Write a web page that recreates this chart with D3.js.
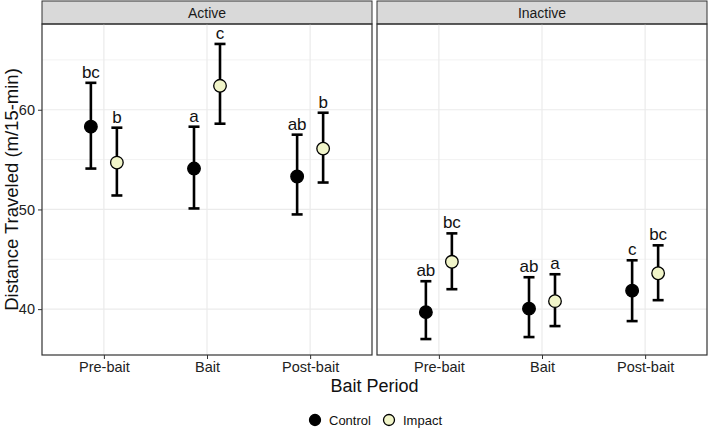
<!DOCTYPE html>
<html>
<head>
<meta charset="utf-8">
<script src="https://cdn.jsdelivr.net/npm/d3@7"></script>
<style>
  body { margin: 0; background: #fff; }
  text { font-family: "Liberation Sans", Arial, sans-serif; }
</style>
</head>
<body>
<div id="chart"></div>
<script>
// data
const periods = ["Pre-bait", "Bait", "Post-bait"];
const panels = ["Active", "Inactive"];
const groups = ["Control", "Impact"];

// means, lower and upper error limits, letters
const activeControl = [58.3, 54.1, 53.3];
const activeControlLo = [54.1, 50.1, 49.5];
const activeControlHi = [62.7, 58.3, 57.5];
const activeControlLab = ["bc", "a", "ab"];

const activeImpact = [54.7, 62.4, 56.1];
const activeImpactLo = [51.4, 58.6, 52.7];
const activeImpactHi = [58.2, 66.6, 59.7];
const activeImpactLab = ["b", "c", "b"];

const inactiveControl = [39.7, 40.05, 41.85];
const inactiveControlLo = [37.0, 37.2, 38.8];
const inactiveControlHi = [42.8, 43.2, 44.9];
const inactiveControlLab = ["ab", "ab", "c"];

const inactiveImpact = [44.75, 40.8, 43.6];
const inactiveImpactLo = [42.0, 38.3, 40.9];
const inactiveImpactHi = [47.6, 43.5, 46.4];
const inactiveImpactLab = ["bc", "a", "bc"];

const yTicks = [40, 50, 60];
const yMinor = [45, 55, 65];

function rows(panel, group, mean, lo, hi, lab) {
    return periods.map((p, i) => ({panel, group, period: p, mean: mean[i], lo: lo[i], hi: hi[i], lab: lab[i]}));
}
const datos = [].concat(
    rows("Active", "Control", activeControl, activeControlLo, activeControlHi, activeControlLab),
    rows("Active", "Impact", activeImpact, activeImpactLo, activeImpactHi, activeImpactLab),
    rows("Inactive", "Control", inactiveControl, inactiveControlLo, inactiveControlHi, inactiveControlLab),
    rows("Inactive", "Impact", inactiveImpact, inactiveImpactLo, inactiveImpactHi, inactiveImpactLab)
);

const W = 709, H = 430;
const topY = 24, bottomY = 355;
const panelX = {Active: [42, 372], Inactive: [377, 707]};
const fillColor = {Control: "#000000", Impact: "#f1f5c9"};

const svg = d3.select("#chart").append("svg")
    .attr("width", W).attr("height", H);

const y = d3.scaleLinear().domain([35.4, 68.6]).range([bottomY, topY]);

panels.forEach(panel => {
    const [x0, x1] = panelX[panel];
    // discrete scale with 0.6 expansion each side
    const xc = d3.scalePoint().domain(periods).range([x0, x1]).padding(0.6);
    const g = svg.append("g");

    // strip
    g.append("rect")
        .attr("x", x0).attr("y", 1).attr("width", x1 - x0).attr("height", topY - 1)
        .attr("fill", "#d9d9d9").attr("stroke", "#333").attr("stroke-width", 1);
    g.append("text")
        .attr("x", (x0 + x1) / 2).attr("y", 18)
        .attr("text-anchor", "middle").attr("font-size", 14).attr("fill", "#1a1a1a")
        .text(panel);

    // grid
    g.selectAll(".minor").data(yMinor).join("line")
        .attr("x1", x0).attr("x2", x1)
        .attr("y1", d => y(d)).attr("y2", d => y(d))
        .attr("stroke", "#f2f2f2").attr("stroke-width", 1);
    g.selectAll(".major").data(yTicks).join("line")
        .attr("x1", x0).attr("x2", x1)
        .attr("y1", d => y(d)).attr("y2", d => y(d))
        .attr("stroke", "#ebebeb").attr("stroke-width", 1.2);
    g.selectAll(".vgrid").data(periods).join("line")
        .attr("x1", d => xc(d)).attr("x2", d => xc(d))
        .attr("y1", topY).attr("y2", bottomY)
        .attr("stroke", "#ebebeb").attr("stroke-width", 1.2);

    // x axis
    const xAxis = g.append("g")
        .attr("transform", `translate(0,${bottomY})`)
        .call(d3.axisBottom(xc).tickSize(4).tickPadding(3));
    xAxis.select(".domain").remove();
    xAxis.selectAll("line").attr("stroke", "#333");
    xAxis.selectAll("text").attr("font-size", 14.5).attr("fill", "#222")
        .attr("font-family", "Liberation Sans, Arial, sans-serif");

    // points
    const dd = datos.filter(d => d.panel === panel);
    const dodge = 13;
    const px = d => xc(d.period) + (d.group === "Control" ? -dodge : dodge);

    g.selectAll(".bar").data(dd).join("line")
        .attr("x1", px).attr("x2", px)
        .attr("y1", d => y(d.lo)).attr("y2", d => y(d.hi))
        .attr("stroke", "#000").attr("stroke-width", 2.6);
    ["lo", "hi"].forEach(k => {
        g.selectAll(".cap" + k).data(dd).join("line")
            .attr("x1", d => px(d) - 5.5).attr("x2", d => px(d) + 5.5)
            .attr("y1", d => y(d[k])).attr("y2", d => y(d[k]))
            .attr("stroke", "#000").attr("stroke-width", 2.6);
    });
    g.selectAll(".pt").data(dd).join("circle")
        .attr("cx", px).attr("cy", d => y(d.mean)).attr("r", 6.3)
        .attr("fill", d => fillColor[d.group])
        .attr("stroke", "#000").attr("stroke-width", 1.3);
    g.selectAll(".lab").data(dd).join("text")
        .attr("x", px).attr("y", d => y(d.hi) - 5)
        .attr("text-anchor", "middle").attr("font-size", 17).attr("fill", "#111")
        .text(d => d.lab);

    // panel border
    g.append("rect")
        .attr("x", x0).attr("y", topY).attr("width", x1 - x0).attr("height", bottomY - topY)
        .attr("fill", "none").attr("stroke", "#333").attr("stroke-width", 1.2);
});

// y axis on left panel
const yAxis = svg.append("g")
    .attr("transform", `translate(${panelX.Active[0]},0)`)
    .call(d3.axisLeft(y).tickValues(yTicks).tickSize(4).tickPadding(3));
yAxis.select(".domain").remove();
yAxis.selectAll("line").attr("stroke", "#333");
yAxis.selectAll("text").attr("font-size", 14.5).attr("fill", "#222")
    .attr("font-family", "Liberation Sans, Arial, sans-serif");

// axis titles
svg.append("text")
    .attr("transform", `translate(17.5,${(topY + bottomY) / 2}) rotate(-90)`)
    .attr("text-anchor", "middle").attr("font-size", 18.5).attr("fill", "#111")
    .text("Distance Traveled (m/15-min)");
svg.append("text")
    .attr("x", (panelX.Active[0] + panelX.Inactive[1]) / 2).attr("y", 392)
    .attr("text-anchor", "middle").attr("font-size", 18).attr("fill", "#111")
    .text("Bait Period");

// legend
const legX = {Control: 315, Impact: 389};
groups.forEach(gr => {
    svg.append("circle")
        .attr("cx", legX[gr]).attr("cy", 420).attr("r", 5.5)
        .attr("fill", fillColor[gr]).attr("stroke", "#000").attr("stroke-width", 1.3);
    svg.append("text")
        .attr("x", legX[gr] + 14).attr("y", 425)
        .attr("font-size", 13).attr("fill", "#111")
        .text(gr);
});
</script>
</body>
</html>
